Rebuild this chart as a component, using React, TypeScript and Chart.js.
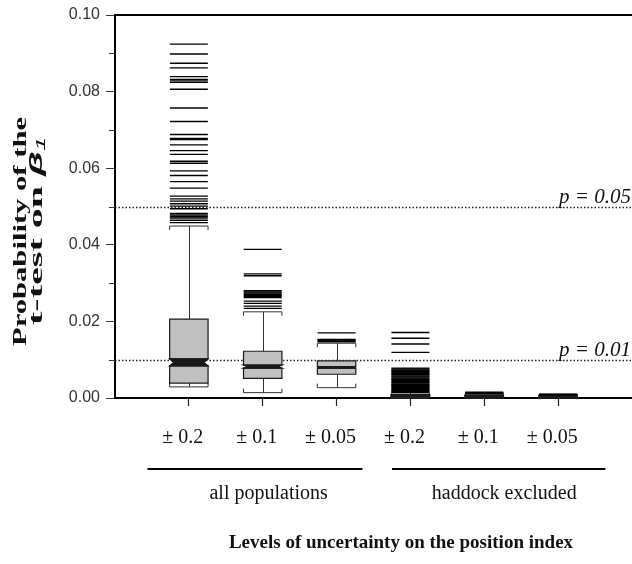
import React, { useEffect, useRef } from 'react';
import { Chart, registerables } from 'chart.js';

Chart.register(...registerables);

// ---------- data ----------
const categories = ['± 0.2', '± 0.1', '± 0.05', '± 0.2', '± 0.1', '± 0.05'];
const groupLabels = ['all populations', 'haddock excluded'];
const yTickValues = [0, 0.02, 0.04, 0.06, 0.08, 0.1];
const yMinorTickValues = [0.01, 0.03, 0.05, 0.07, 0.09];
const thresholds = [0.05, 0.01];
const thresholdLabels = ['p = 0.05', 'p = 0.01'];

const lowerWhisker = [0.0029, 0.0014, 0.0027, 0.0, 0.0, 0.0];
const q1 = [0.0039, 0.0051, 0.0062, 0.0002, 0.0002, 0.0001];
const notchLow = [0.0084, 0.0078, 0.0078, 0.0004, 0.0003, 0.0002];
const medians = [0.0093, 0.0082, 0.0080, 0.0005, 0.0004, 0.0003];
const notchHigh = [0.0102, 0.0086, 0.0082, 0.0006, 0.0005, 0.0004];
const q3 = [0.0206, 0.0122, 0.0097, 0.0009, 0.0006, 0.0005];
const upperWhisker = [0.0449, 0.0225, 0.0143, 0.0013, 0.0010, 0.0007];

const outliersA02 = [
  0.0924, 0.0898, 0.0874, 0.0862, 0.0839, 0.0832, 0.0828, 0.0824, 0.0806, 0.0757,
  0.0722, 0.0688, 0.0678, 0.0675, 0.0661, 0.0646, 0.0636, 0.0618, 0.0613, 0.0593,
  0.0581, 0.0565, 0.0548, 0.0527, 0.0520, 0.0514, 0.0507, 0.0501, 0.0494, 0.0482,
  0.0478, 0.0474, 0.0470, 0.0464, 0.0458,
];
const outliersA01 = [
  0.0388, 0.0324, 0.0319, 0.0280, 0.0277, 0.0274, 0.0271, 0.0268, 0.0265, 0.0262,
  0.0253, 0.0247, 0.0240, 0.0234,
];
const outliersA005 = [0.0170, 0.0153, 0.0151, 0.0149, 0.0147];
const outliersH02 = [
  0.0171, 0.0156, 0.0141, 0.0119, 0.0078, 0.0076, 0.0073, 0.0071, 0.0069, 0.0066,
  0.0064, 0.0062, 0.0060, 0.0057, 0.0055, 0.0052, 0.0050, 0.0048, 0.0046, 0.0043,
  0.0041, 0.0039, 0.0036, 0.0034, 0.0032, 0.0030, 0.0027, 0.0025, 0.0023, 0.0021,
  0.0019, 0.0017, 0.0015,
];
const outliersH01 = [0.0015, 0.0014, 0.0013, 0.0012, 0.0011];
const outliersH005 = [0.0010, 0.0009, 0.0008];
const outliers = [outliersA02, outliersA01, outliersA005, outliersH02, outliersH01, outliersH005];

// ---------- styling ----------
const SERIF = '"Liberation Serif", "Times New Roman", Times, serif';
const SANS = '"Liberation Sans", Arial, Helvetica, sans-serif';
const BOX_HALF = 0.26; // in x-scale units
const NOTCH_IN = 0.055;
const BOX_FILL = '#c0c0c0';
const INK = '#1a1a1a';

const boxPlugin = {
  id: 'notchedBoxes',
  beforeDatasetsDraw(chart: any) {
    const { ctx, chartArea, scales } = chart;
    const x = scales.x;
    const y = scales.y;
    ctx.save();
    // dotted significance lines
    ctx.strokeStyle = '#222';
    ctx.lineWidth = 1.5;
    ctx.setLineDash([1.5, 2]);
    thresholds.forEach((t) => {
      const py = Math.round(y.getPixelForValue(t)) + 0.5;
      ctx.beginPath();
      ctx.moveTo(chartArea.left, py);
      ctx.lineTo(chartArea.right, py);
      ctx.stroke();
    });
    ctx.setLineDash([]);

    categories.forEach((_, i) => {
      const c = i + 1;
      const cx = Math.round(x.getPixelForValue(c)) + 0.5;
      const l = x.getPixelForValue(c - BOX_HALF);
      const r = x.getPixelForValue(c + BOX_HALF);
      const li = x.getPixelForValue(c - BOX_HALF + NOTCH_IN);
      const ri = x.getPixelForValue(c + BOX_HALF - NOTCH_IN);
      const yLo = y.getPixelForValue(lowerWhisker[i]);
      const yQ1 = y.getPixelForValue(q1[i]);
      const yNL = y.getPixelForValue(notchLow[i]);
      const yMed = y.getPixelForValue(medians[i]);
      const yNH = y.getPixelForValue(notchHigh[i]);
      const yQ3 = y.getPixelForValue(q3[i]);
      const yHi = y.getPixelForValue(upperWhisker[i]);
      const cap = 4;

      // whiskers
      ctx.strokeStyle = '#333';
      ctx.lineWidth = 1;
      ctx.beginPath();
      ctx.moveTo(cx, yQ3);
      ctx.lineTo(cx, yHi);
      ctx.moveTo(cx, yQ1);
      ctx.lineTo(cx, yLo);
      ctx.stroke();
      ctx.beginPath();
      ctx.moveTo(l, yHi + cap);
      ctx.lineTo(l, yHi);
      ctx.lineTo(r, yHi);
      ctx.lineTo(r, yHi + cap);
      ctx.moveTo(l, yLo - cap);
      ctx.lineTo(l, yLo);
      ctx.lineTo(r, yLo);
      ctx.lineTo(r, yLo - cap);
      ctx.stroke();

      // box parts
      ctx.lineWidth = 1.2;
      ctx.strokeStyle = INK;
      ctx.fillStyle = BOX_FILL;
      ctx.beginPath();
      ctx.rect(l, yQ3, r - l, yNH - yQ3);
      ctx.fill();
      ctx.stroke();
      ctx.beginPath();
      ctx.rect(l, yNL, r - l, yQ1 - yNL);
      ctx.fill();
      ctx.stroke();
      // notch (hourglass)
      ctx.fillStyle = INK;
      ctx.beginPath();
      ctx.moveTo(l, yNH);
      ctx.lineTo(li, yMed);
      ctx.lineTo(l, yNL);
      ctx.lineTo(r, yNL);
      ctx.lineTo(ri, yMed);
      ctx.lineTo(r, yNH);
      ctx.closePath();
      ctx.fill();
      ctx.stroke();
    });
    ctx.restore();
  },
};

const textPlugin = {
  id: 'extraTexts',
  afterDraw(chart: any) {
    const { ctx, chartArea, scales } = chart;
    const x = scales.x;
    const y = scales.y;
    ctx.save();

    // top frame line
    ctx.strokeStyle = '#000';
    ctx.lineWidth = 2;
    ctx.beginPath();
    ctx.moveTo(chartArea.left - 1, chartArea.top);
    ctx.lineTo(chartArea.right, chartArea.top);
    ctx.stroke();

    // minor y ticks
    ctx.strokeStyle = '#333';
    ctx.lineWidth = 1;
    yMinorTickValues.forEach((v) => {
      const py = Math.round(y.getPixelForValue(v)) + 0.5;
      ctx.beginPath();
      ctx.moveTo(chartArea.left - 6, py);
      ctx.lineTo(chartArea.left, py);
      ctx.stroke();
    });

    // threshold labels
    ctx.fillStyle = '#111';
    ctx.font = `italic 21px ${SERIF}`;
    ctx.textAlign = 'right';
    ctx.textBaseline = 'alphabetic';
    thresholds.forEach((t, i) => {
      const py = y.getPixelForValue(t);
      ctx.fillText(thresholdLabels[i], chartArea.right - 1, py - 4);
    });

    // group lines and labels
    const spans = [
      [0.44, 3.35],
      [3.75, 6.64],
    ];
    const labelCenters = [2.08, 5.27];
    const lineY = 469;
    ctx.strokeStyle = '#000';
    ctx.lineWidth = 2;
    spans.forEach(([a, b]) => {
      ctx.beginPath();
      ctx.moveTo(x.getPixelForValue(a), lineY);
      ctx.lineTo(x.getPixelForValue(b), lineY);
      ctx.stroke();
    });
    ctx.font = `20px ${SERIF}`;
    ctx.textAlign = 'center';
    ctx.textBaseline = 'middle';
    ctx.fillStyle = '#111';
    groupLabels.forEach((g, i) => {
      ctx.fillText(g, x.getPixelForValue(labelCenters[i]), 494);
    });

    // x title
    ctx.font = `bold 19px ${SERIF}`;
    ctx.fillText('Levels of uncertainty on the position index', 401, 543);

    // y title (two rotated lines)
    ctx.textAlign = 'left';
    ctx.textBaseline = 'alphabetic';
    const f1 = `bold 19px ${SERIF}`;
    ctx.font = f1;
    const t1 = 'Probability of the';
    const w1 = ctx.measureText(t1).width;
    ctx.save();
    ctx.translate(26, 231.5);
    ctx.rotate(-Math.PI / 2);
    ctx.scale(229 / w1, 1);
    ctx.fillText(t1, -w1 / 2, 0);
    ctx.restore();

    const partA = 't-test on ';
    const fA = `bold 19px ${SERIF}`;
    const fB = `bold italic 19px ${SANS}`;
    const fC = `italic 12px ${SANS}`;
    ctx.font = fA;
    const wA = ctx.measureText(partA).width;
    ctx.font = fB;
    const wB = ctx.measureText('β').width;
    ctx.font = fC;
    const wC = ctx.measureText('1').width;
    const wT = wA + wB + wC;
    ctx.save();
    ctx.translate(42, 231);
    ctx.rotate(-Math.PI / 2);
    ctx.scale(188 / wT, 1);
    let px = -wT / 2;
    ctx.font = fA;
    ctx.fillText(partA, px, 0);
    px += wA;
    ctx.font = fB;
    ctx.fillText('β', px, 0);
    px += wB;
    ctx.font = fC;
    ctx.fillText('1', px, 3);
    ctx.restore();

    ctx.restore();
  },
};

export default function App() {
  const canvasRef = useRef<HTMLCanvasElement | null>(null);

  useEffect(() => {
    const canvas = canvasRef.current;
    if (!canvas) return;
    const points = outliers.flatMap((arr, i) => arr.map((v) => ({ x: i + 1, y: v })));
    const chart = new Chart(canvas, {
      type: 'scatter',
      data: {
        datasets: [
          {
            label: 'outliers',
            data: points,
            pointStyle: 'line',
            pointRadius: 19,
            pointHoverRadius: 19,
            pointBorderColor: '#000',
            pointBorderWidth: 1.4,
            borderColor: '#000',
            showLine: false,
          } as any,
        ],
      },
      options: {
        responsive: false,
        animation: false,
        devicePixelRatio: 1,
        events: [],
        layout: { autoPadding: false, padding: { top: 15, right: 0, left: 0, bottom: 0 } },
        plugins: {
          legend: { display: false },
          tooltip: { enabled: false },
          title: { display: false },
        },
        scales: {
          x: {
            type: 'linear',
            min: 0,
            max: 7,
            afterBuildTicks: (scale: any) => {
              scale.ticks = categories.map((_, i) => ({ value: i + 1 }));
            },
            afterFit: (scale: any) => {
              scale.height = 166;
              scale.paddingLeft = 0;
              scale.paddingRight = 0;
            },
            ticks: {
              callback: (v: any) => categories[Math.round(Number(v)) - 1] ?? '',
              font: { family: SERIF, size: 20 },
              color: '#111',
              padding: 20,
              labelOffset: -6,
              maxRotation: 0,
              autoSkip: false,
            },
            grid: {
              display: true,
              drawOnChartArea: false,
              drawTicks: true,
              tickLength: 8,
              tickColor: '#222',
              tickWidth: 1.2,
            },
            border: { display: true, color: '#000', width: 2 },
          },
          y: {
            type: 'linear',
            min: 0,
            max: 0.1,
            afterBuildTicks: (scale: any) => {
              scale.ticks = yTickValues.map((v) => ({ value: v }));
            },
            afterFit: (scale: any) => {
              scale.width = 115;
              scale.paddingTop = 0;
              scale.paddingBottom = 0;
            },
            ticks: {
              callback: (v: any) => Number(v).toFixed(2),
              font: { family: SANS, size: 16 },
              color: '#333',
              padding: 6,
            },
            grid: {
              display: true,
              drawOnChartArea: false,
              drawTicks: true,
              tickLength: 9,
              tickColor: '#333',
              tickWidth: 1,
            },
            border: { display: true, color: '#000', width: 2 },
          },
        },
      },
      plugins: [boxPlugin, textPlugin],
    });
    return () => chart.destroy();
  }, []);

  return (
    <div style={{ position: 'absolute', left: 0, top: 0, width: 632, height: 564, background: '#fff' }}>
      <canvas ref={canvasRef} width={632} height={564} style={{ display: 'block' }} />
    </div>
  );
}
